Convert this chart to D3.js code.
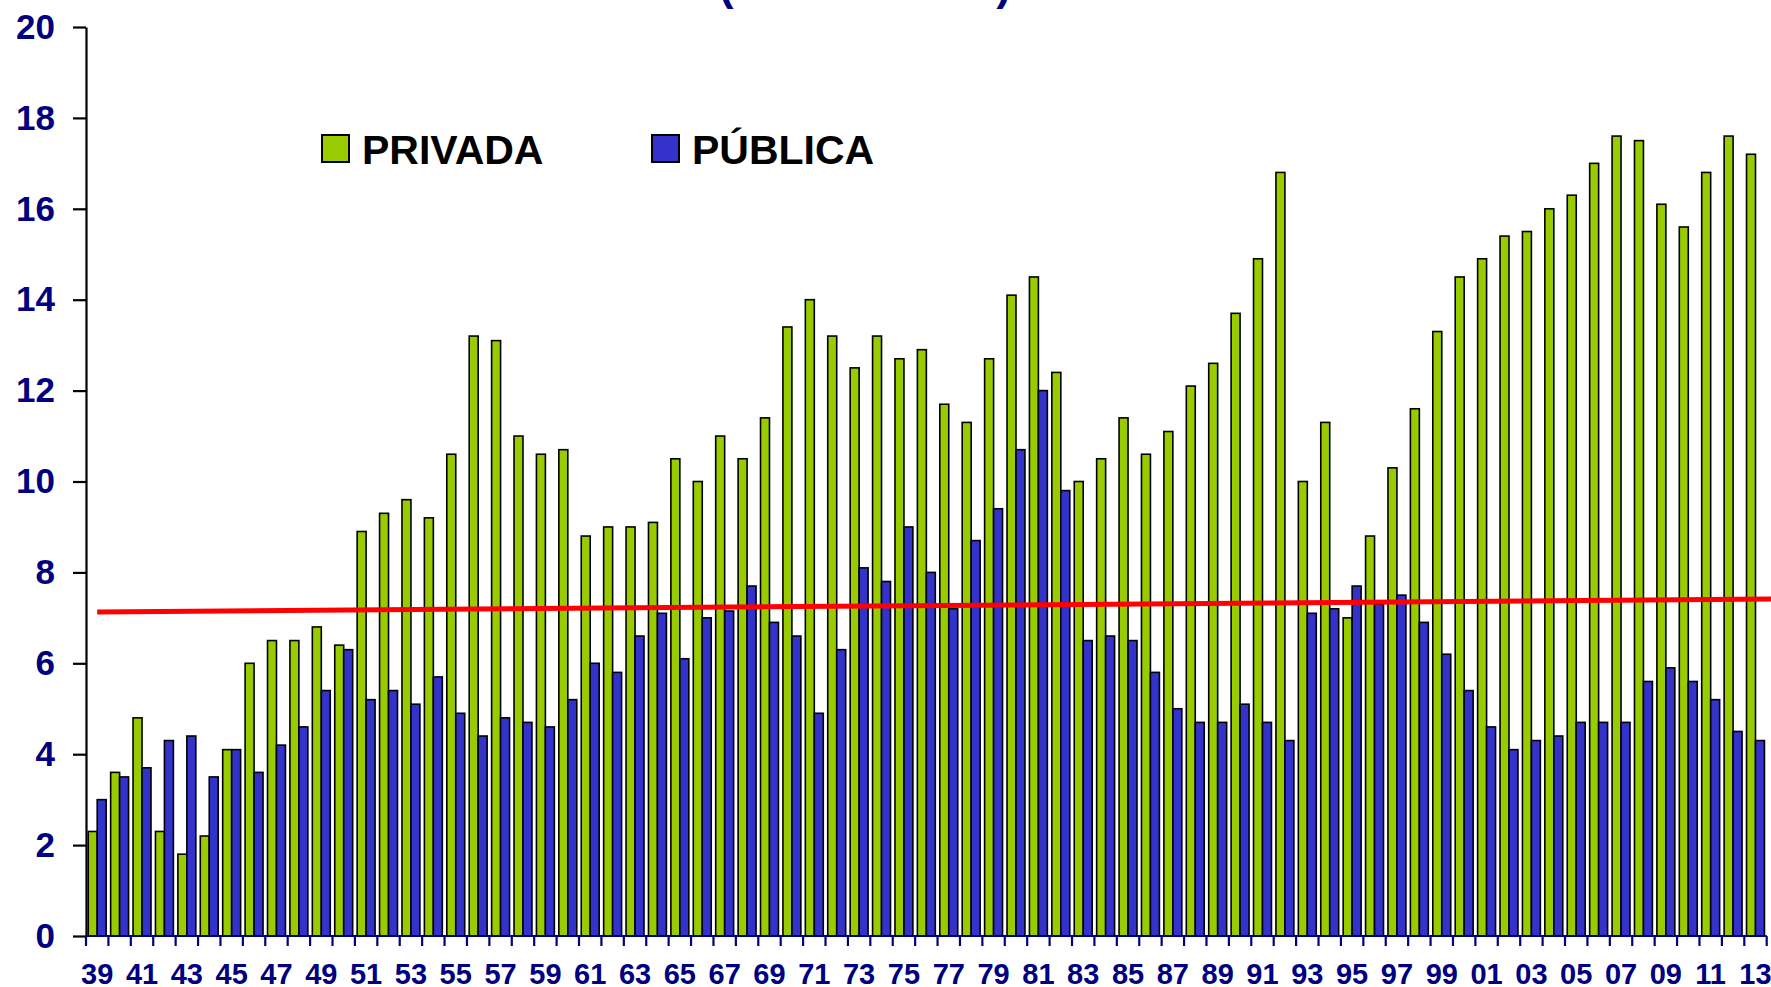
<!DOCTYPE html>
<html><head><meta charset="utf-8">
<script src="https://cdn.jsdelivr.net/npm/d3@7"></script>
<style>
body{margin:0;background:#fff}
svg{display:block;background:#fff}
text{font-family:"Liberation Sans",Arial,Helvetica,sans-serif;font-weight:bold}
</style></head>
<body><svg id="chart" width="1771" height="987"></svg>
<script>
// ---- data ----
const years = ["39","40","41","42","43","44","45","46","47","48","49",
  "50","51","52","53","54","55","56","57","58","59",
  "60","61","62","63","64","65","66","67","68","69",
  "70","71","72","73","74","75","76","77","78","79",
  "80","81","82","83","84","85","86","87","88","89",
  "90","91","92","93","94","95","96","97","98","99",
  "00","01","02","03","04","05","06","07","08","09",
  "10","11","12","13"];
const privada = [2.3,3.6,4.8,2.3,1.8,2.2,4.1,6.0,6.5,6.5,6.8,
  6.4,8.9,9.3,9.6,9.2,10.6,13.2,13.1,11.0,10.6,
  10.7,8.8,9.0,9.0,9.1,10.5,10.0,11.0,10.5,11.4,
  13.4,14.0,13.2,12.5,13.2,12.7,12.9,11.7,11.3,12.7,
  14.1,14.5,12.4,10.0,10.5,11.4,10.6,11.1,12.1,12.6,
  13.7,14.9,16.8,10.0,11.3,7.0,8.8,10.3,11.6,13.3,
  14.5,14.9,15.4,15.5,16.0,16.3,17.0,17.6,17.5,16.1,
  15.6,16.8,17.6,17.2];
const publica = [3.0,3.5,3.7,4.3,4.4,3.5,4.1,3.6,4.2,4.6,5.4,
  6.3,5.2,5.4,5.1,5.7,4.9,4.4,4.8,4.7,4.6,
  5.2,6.0,5.8,6.6,7.1,6.1,7.0,7.15,7.7,6.9,
  6.6,4.9,6.3,8.1,7.8,9.0,8.0,7.2,8.7,9.4,
  10.7,12.0,9.8,6.5,6.6,6.5,5.8,5.0,4.7,4.7,
  5.1,4.7,4.3,7.1,7.2,7.7,7.3,7.5,6.9,6.2,
  5.4,4.6,4.1,4.3,4.4,4.7,4.7,4.7,5.6,5.9,
  5.6,5.2,4.5,4.3];
const seriesNames = ["PRIVADA","PÚBLICA"];
const seriesColors = ["#99CC00","#3333CC"];
const yTickValues = [0,2,4,6,8,10,12,14,16,18,20];
const xTickLabels = ["39","41","43","45","47","49","51","53","55","57","59","61","63","65","67","69","71","73","75","77","79","81","83","85","87","89","91","93","95","97","99","01","03","05","07","09","11","13"];
const trendYears = ["39","13"];
const trendValues = [7.13, 7.41];
const titleText = "(% del PIB)";

// ---- layout ----
(function(){
const W = 1771, H = 987;
const svg = d3.select("#chart");
const pLeft = 86, pRight = 1766.7, pTop = 27, pBottom = 936;

const x = d3.scaleBand().domain(years).range([pLeft, pRight]).paddingInner(0.2).paddingOuter(0.1);
const xs = d3.scaleBand().domain(seriesNames).range([0, x.bandwidth()]);
const y = d3.scaleLinear().domain([0, 20]).range([pBottom, pTop]);
const step = x.step();

// title fragment (cut at top)
svg.append("text").attr("x", 719).attr("y", 0)
  .attr("textLength", 292).attr("lengthAdjust", "spacing")
  .attr("font-size", 44).attr("fill", "#000080").text(titleText);

// bars
const rows = years.map((yr, i) => ({yr, vals: [privada[i], publica[i]]}));
const g = svg.append("g");
rows.forEach(r => {
  seriesNames.forEach((s, j) => {
    g.append("rect")
      .attr("x", x(r.yr) + xs(s))
      .attr("y", y(r.vals[j]))
      .attr("width", xs.bandwidth())
      .attr("height", y(0) - y(r.vals[j]))
      .attr("fill", seriesColors[j])
      .attr("stroke", "#000").attr("stroke-width", 1.6);
  });
});

// y axis
const yAxis = d3.axisLeft(y).tickValues(yTickValues).tickSize(13).tickSizeOuter(0).tickPadding(18);
const ya = svg.append("g").attr("transform", `translate(${pLeft},0)`).call(yAxis);
ya.select(".domain").attr("stroke", "#000").attr("stroke-width", 2.2);
ya.selectAll(".tick line").attr("stroke", "#000").attr("stroke-width", 2.2);
ya.selectAll(".tick text").attr("font-size", 35).attr("fill", "#000080")
  .attr("font-family", '"Liberation Sans",Arial,sans-serif').attr("font-weight", "bold");

// x axis
svg.append("line").attr("x1", pLeft).attr("x2", pRight).attr("y1", pBottom).attr("y2", pBottom)
  .attr("stroke", "#000080").attr("stroke-width", 2.2);
const boundaries = years.map(yr => x(yr) - step * 0.1).concat([pRight]);
svg.append("g").selectAll("line").data(boundaries).join("line")
  .attr("x1", d => d).attr("x2", d => d).attr("y1", pBottom).attr("y2", pBottom + 10)
  .attr("stroke", "#000080").attr("stroke-width", 2.2);
svg.append("g").selectAll("text").data(xTickLabels).join("text")
  .attr("x", d => x(d) + x.bandwidth() / 2)
  .attr("y", 984)
  .attr("text-anchor", "middle")
  .attr("font-size", 29).attr("fill", "#000080").text(d => d);

// trend line (extended to right edge)
const c0 = x(trendYears[0]) + x.bandwidth() / 2;
const c1 = x(trendYears[1]) + x.bandwidth() / 2;
const slope = (trendValues[1] - trendValues[0]) / (c1 - c0);
const xEnd = W;
svg.append("line")
  .attr("x1", c0).attr("y1", y(trendValues[0]))
  .attr("x2", xEnd).attr("y2", y(trendValues[0] + slope * (xEnd - c0)))
  .attr("stroke", "#FF0000").attr("stroke-width", 5);

// legend
const legendX = [322, 652];
seriesNames.forEach((s, j) => {
  svg.append("rect").attr("x", legendX[j]).attr("y", 135).attr("width", 27).attr("height", 27)
    .attr("fill", seriesColors[j]).attr("stroke", "#000").attr("stroke-width", 2);
  svg.append("text").attr("x", legendX[j] + 40).attr("y", 164)
    .attr("font-size", 41).attr("fill", "#000").text(s);
});
})();
</script>
</body></html>
